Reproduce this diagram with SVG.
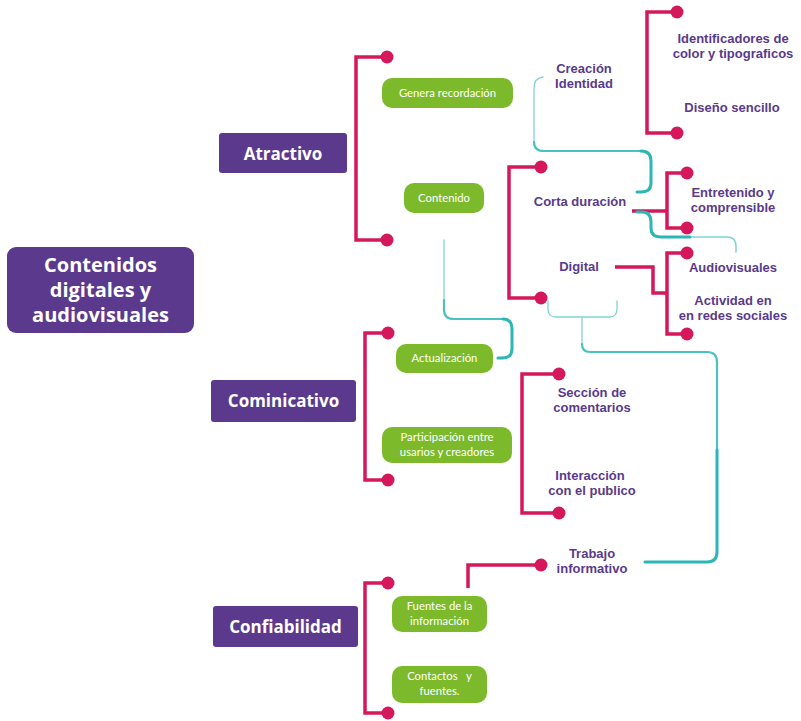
<svg xmlns="http://www.w3.org/2000/svg" width="801" height="721" viewBox="0 0 801 721">
<style>
.main{fill:#5B3A8E}
.mt{fill:#fff;font-family:"Open Sans",sans-serif;font-weight:700;text-anchor:middle}
.gb{fill:#7CBA2B}
.gt{fill:#fff;font-family:Lato,sans-serif;font-size:11.3px;text-anchor:middle}
.pt{fill:#5A3A8C;font-family:"Liberation Sans",Arial,sans-serif;font-weight:700;font-size:13px;text-anchor:middle}
.pk{fill:none;stroke:#D4185B;stroke-width:3.5}
.dot{fill:#D4185B}
.tl{fill:none;stroke:#2DB6B6;stroke-linecap:round}
</style>
<rect width="801" height="721" fill="#fff"/>
<g id="connectors">
<g class="pk-lines">
<path class="pk" d="M387,57 L356,57 L356,240 L387,240"/>
<path class="pk" d="M388,333 L365,333 L365,480 L388,480"/>
<path class="pk" d="M388,583 L365,583 L365,713 L388,713"/>
<path class="pk" d="M677,12 L647,12 L647,133 L677,133"/>
<path class="pk" d="M541,167 L509,167 L509,298 L541,298"/>
<path class="pk" d="M632,211 L667,211"/>
<path class="pk" d="M687,173 L667,173 L667,228 L687,228"/>
<path class="pk" d="M615,267 L653,267 L653,293 L667,293"/>
<path class="pk" d="M687,253 L667,253 L667,334 L687,334"/>
<path class="pk" d="M559,374 L522,374 L522,513 L559,513"/>
<path class="pk" d="M468,588 L468,565 L541,565"/>
</g>
<g class="dots">
<circle class="dot" cx="387" cy="57" r="6.5"/>
<circle class="dot" cx="387" cy="240" r="6.5"/>
<circle class="dot" cx="388" cy="333" r="6.5"/>
<circle class="dot" cx="388" cy="480" r="6.5"/>
<circle class="dot" cx="388" cy="583" r="6.5"/>
<circle class="dot" cx="388" cy="713" r="6.5"/>
<circle class="dot" cx="677" cy="12" r="6.5"/>
<circle class="dot" cx="677" cy="133" r="6.5"/>
<circle class="dot" cx="541" cy="167" r="6.5"/>
<circle class="dot" cx="541" cy="298" r="6.5"/>
<circle class="dot" cx="687" cy="173" r="6.5"/>
<circle class="dot" cx="687" cy="228" r="6.5"/>
<circle class="dot" cx="687" cy="253" r="6.5"/>
<circle class="dot" cx="687" cy="334" r="6.5"/>
<circle class="dot" cx="559" cy="374" r="6.5"/>
<circle class="dot" cx="559" cy="513" r="6.5"/>
<circle class="dot" cx="541" cy="565" r="6.5"/>
</g>
<g class="teal">
<path class="tl" stroke-width="1.3" stroke-opacity="0.6" d="M543,77 Q534,78 534,88 L534,142"/>
<path class="tl" stroke-width="2.2" stroke-opacity="0.85" d="M534,142 Q534,151 544,151 L641,151"/>
<path class="tl" stroke-width="3" d="M641,151 Q651,151 651,161 L651,183 Q651,192 641,192 L637,192"/>
<path class="tl" stroke-width="3" d="M637,212 L642,212 Q651,212 651,222 L651,228 Q651,237 661,237 L690,237"/>
<path class="tl" stroke-width="1.5" stroke-opacity="0.6" d="M690,237 L727,237 Q736,237 736,246 L736,252"/>
<path class="tl" stroke-width="1.3" stroke-opacity="0.6" d="M444,240 L444,300"/>
<path class="tl" stroke-width="2.2" stroke-opacity="0.85" d="M444,300 L444,310 Q444,319 454,319 L503,319"/>
<path class="tl" stroke-width="3" d="M503,319 Q512,319 512,329 L512,349 Q512,358 502,358 L498,358"/>
<path class="tl" stroke-width="1.3" stroke-opacity="0.6" d="M548,301 L548,309 Q548,317 556,317 L609,317 Q617,317 617,309 L617,301 M582,317 L582,344"/>
<path class="tl" stroke-width="2.2" stroke-opacity="0.85" d="M582,344 Q582,352 590,352 L707,352 Q717,352 717,362 L717,450"/>
<path class="tl" stroke-width="3" d="M717,450 L717,552 Q717,562 707,562 L645,562"/>
</g>
</g>
<g id="n-main">
<rect class="main" x="7" y="247" width="187" height="86" rx="9"/>
<text class="mt" font-size="20"><tspan x="100.5" y="272">Contenidos</tspan><tspan x="100.5" y="297">digitales y</tspan><tspan x="100.5" y="322">audiovisuales</tspan></text>
</g>
<g id="n-atractivo">
<rect class="main" x="219" y="133" width="128" height="40" rx="3"/>
<text class="mt" font-size="17" x="283" y="159.5">Atractivo</text>
</g>
<g id="n-cominicativo">
<rect class="main" x="211" y="380" width="145" height="42" rx="3"/>
<text class="mt" font-size="17" x="283.5" y="407">Cominicativo</text>
</g>
<g id="n-confiabilidad">
<rect class="main" x="213" y="606" width="145" height="41" rx="3"/>
<text class="mt" font-size="17" x="285.5" y="633">Confiabilidad</text>
</g>
<g id="n-genera">
<rect class="gb" x="382" y="78" width="131" height="30" rx="10"/>
<text class="gt" x="447.5" y="97">Genera recordación</text>
</g>
<g id="n-contenido">
<rect class="gb" x="404" y="183" width="80" height="30" rx="10"/>
<text class="gt" x="444" y="202">Contenido</text>
</g>
<g id="n-actualizacion">
<rect class="gb" x="396" y="344" width="97" height="29" rx="10"/>
<text class="gt" x="444.5" y="362">Actualización</text>
</g>
<g id="n-participacion">
<rect class="gb" x="382" y="427" width="130" height="36" rx="10"/>
<text class="gt"><tspan x="447" y="441">Participación entre</tspan><tspan x="447" y="456">usarios y creadores</tspan></text>
</g>
<g id="n-fuentes">
<rect class="gb" x="392" y="596" width="95" height="36" rx="10"/>
<text class="gt"><tspan x="439.5" y="610">Fuentes de la</tspan><tspan x="439.5" y="625">información</tspan></text>
</g>
<g id="n-contactos">
<rect class="gb" x="392" y="666" width="95" height="37" rx="10"/>
<text class="gt" xml:space="preserve"><tspan x="439.5" y="680">Contactos   y</tspan><tspan x="439.5" y="695">fuentes.</tspan></text>
</g>
<g id="n-creacion">
<text class="pt"><tspan x="584" y="73">Creación</tspan><tspan x="584" y="88">Identidad</tspan></text>
</g>
<g id="n-identificadores">
<text class="pt"><tspan x="733" y="43">Identificadores de</tspan><tspan x="733" y="58">color y tipograficos</tspan></text>
</g>
<g id="n-diseno">
<text class="pt" x="732" y="112">Diseño sencillo</text>
</g>
<g id="n-corta">
<text class="pt" x="580" y="206">Corta duración</text>
</g>
<g id="n-entretenido">
<text class="pt"><tspan x="733" y="197">Entretenido y</tspan><tspan x="733" y="212">comprensible</tspan></text>
</g>
<g id="n-digital">
<text class="pt" x="579" y="271">Digital</text>
</g>
<g id="n-audiovisuales">
<text class="pt" x="733" y="272">Audiovisuales</text>
</g>
<g id="n-actividad">
<text class="pt"><tspan x="733" y="305">Actividad en</tspan><tspan x="733" y="320">en redes sociales</tspan></text>
</g>
<g id="n-seccion">
<text class="pt"><tspan x="592" y="397">Sección de</tspan><tspan x="592" y="412">comentarios</tspan></text>
</g>
<g id="n-interaccion">
<text class="pt"><tspan x="590" y="480">Interacción</tspan><tspan x="592" y="495">con el publico</tspan></text>
</g>
<g id="n-trabajo">
<text class="pt"><tspan x="592" y="558">Trabajo</tspan><tspan x="592" y="573">informativo</tspan></text>
</g>
</svg>
